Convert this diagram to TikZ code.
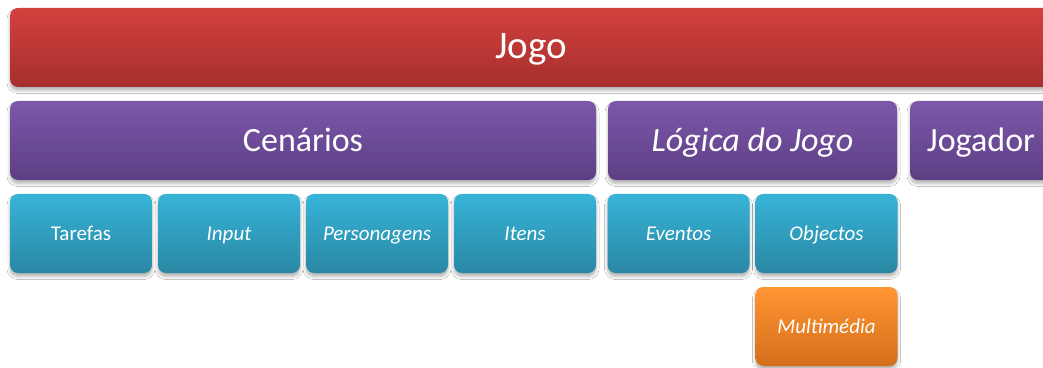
\documentclass[tikz,border=0pt]{standalone}
\usepackage{fontspec}
\setmainfont{Carlito}
\usetikzlibrary{shadows.blur}

\definecolor{vermelhoA}{HTML}{D2403D}
\definecolor{vermelhoB}{HTML}{A62F2D}
\definecolor{roxoA}{HTML}{7C58A9}
\definecolor{roxoB}{HTML}{5D3E84}
\definecolor{azulA}{HTML}{37B4D8}
\definecolor{azulB}{HTML}{2987A3}
\definecolor{laranjaA}{HTML}{FF9532}
\definecolor{laranjaB}{HTML}{D46E1B}

\tikzset{
  bloco/.style={rectangle, rounded corners=8pt, inner sep=0pt, text=white,
    minimum height=79pt, text depth=0pt,
    blur shadow={shadow blur steps=6, shadow xshift=0pt, shadow yshift=-3.5pt,
      shadow opacity=30, shadow blur radius=3pt}},
  jogo/.style={bloco, top color=vermelhoA, bottom color=vermelhoB,
    text height=21.6pt, font=\fontsize{39}{44}\selectfont},
  area/.style={bloco, top color=roxoA, bottom color=roxoB,
    text height=22.4pt, font=\fontsize{34}{38}\selectfont},
  parte/.style={bloco, top color=azulA, bottom color=azulB, minimum width=142pt,
    text height=13.6pt, font=\fontsize{21}{24}\selectfont},
  media/.style={bloco, top color=laranjaA, bottom color=laranjaB, minimum width=142pt,
    text height=13.6pt, font=\fontsize{21}{24}\selectfont\itshape}
}

\begin{document}
\begin{tikzpicture}[x=1pt,y=1pt]
    \useasboundingbox (0,0) rectangle (1043,367);
    \clip (0,0) rectangle (1043,367);
    \fill[white] (0,0) rectangle (1043,367);
    % linha de cima
    \node[jogo, minimum width=1042pt] (jogo) at (531,319.5) {Jogo};
    % areas
    \node[area, minimum width=586pt] (cenarios) at (303,226.5) {Cenários};
    \node[area, minimum width=289pt] (logica) at (752.5,226.5) {\itshape Lógica do Jogo};
    \node[area, minimum width=142pt] (jogador) at (981,226.5) {Jogador};
    % partes
    \node[parte] (tarefas) at (81,133.5) {Tarefas};
    \foreach \nome/\txt/\x in {input/Input/229, personagens/Personagens/377,
        itens/Itens/525, eventos/Eventos/678.5, objectos/Objectos/826.5}
      \node[parte] (\nome) at (\x,133.5) {\itshape\txt};
    \node[media] (multimedia) at (826.5,40.5) {Multimédia};
\end{tikzpicture}
\end{document}
